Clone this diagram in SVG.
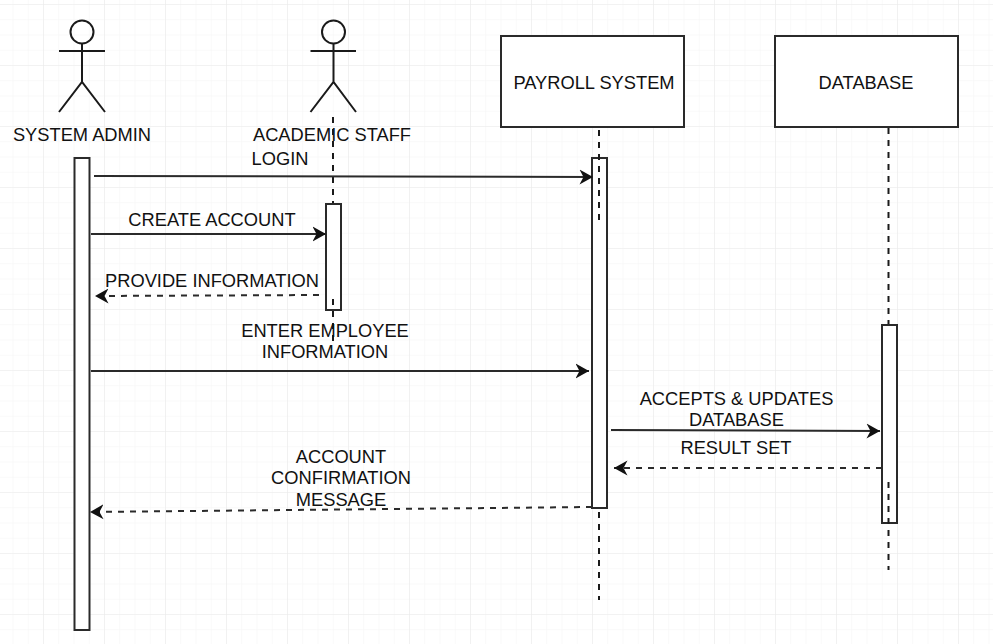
<svg xmlns="http://www.w3.org/2000/svg" width="993" height="644" viewBox="0 0 993 644">
<style>
.s{fill:none;stroke:#1a1a1a;stroke-width:2}
.b{fill:#fff;stroke:#2a2a2a;stroke-width:2}
.d{fill:none;stroke:#1a1a1a;stroke-width:2;stroke-dasharray:6 6}
.c{fill:none;stroke:#2a2a2a;stroke-width:2}
.dc{fill:none;stroke:#2a2a2a;stroke-width:2;stroke-dasharray:6 6}
text{font-family:"Liberation Sans",Arial,sans-serif;font-size:18.3px;fill:#111;text-anchor:middle}
</style>
<defs>
<pattern id="minor" width="15.25" height="15.25" patternUnits="userSpaceOnUse" x="12.5" y="4">
<path d="M0 0H15.25M0 0V15.25" fill="none" stroke="#f4f4f4" stroke-width="1"/>
</pattern>
<pattern id="major" width="61" height="61" patternUnits="userSpaceOnUse" x="43" y="4">
<path d="M0 0H61M0 0V61" fill="none" stroke="#ebebeb" stroke-width="1.2"/>
</pattern>
<marker id="arrow" viewBox="0 0 14 16" refX="13.500" refY="8" markerWidth="14" markerHeight="16" markerUnits="userSpaceOnUse" orient="auto">
<path d="M0 0.500L13.500 8L0 15.500L4 8Z" fill="#111"/>
</marker>
</defs>
<rect width="993" height="644" fill="#fff"/>
<rect width="993" height="644" fill="url(#minor)"/>
<rect width="993" height="644" fill="url(#major)"/>
<g id="actor-system-admin">
<circle class="s" cx="82" cy="32" r="11.500"/>
<path class="s" d="M59 51H105M82 44V82M59 112L82 82L105 112"/>
<text x="82" y="141">SYSTEM ADMIN</text>
<rect class="b" x="74.500" y="158" width="15" height="472"/>
</g>
<g id="actor-academic-staff">
<circle class="s" cx="333.500" cy="32" r="11.500"/>
<path class="s" d="M310.500 51H356M333.500 44V82M310.500 112L333.500 82L356 112"/>
<text x="332" y="141">ACADEMIC STAFF</text>
<path class="d" d="M333 117V204"/>
<rect class="b" x="326" y="204" width="15" height="106"/>
<path class="d" d="M333 299V344"/>
</g>
<g id="node-payroll">
<rect class="b" x="501" y="36" width="183" height="91"/>
<text x="594" y="89">PAYROLL SYSTEM</text>
<rect class="b" x="592" y="158" width="15" height="350"/>
<path class="d" d="M599 130V220M599 512V600"/>
</g>
<g id="node-database">
<rect class="b" x="775" y="36" width="183" height="91"/>
<text x="866" y="89">DATABASE</text>
<path class="d" d="M888.500 128V325"/>
<rect class="b" x="882" y="325" width="15" height="198"/>
<path class="d" d="M888.500 482V570"/>
</g>
<g id="connectors">
<path class="c" marker-end="url(#arrow)" d="M94 176L593 177"/>
<path class="c" marker-end="url(#arrow)" d="M91 234H326"/>
<path class="dc" marker-end="url(#arrow)" d="M319 295L95 296"/>
<path class="c" marker-end="url(#arrow)" d="M91 371H589"/>
<path class="c" marker-end="url(#arrow)" d="M611 430L880 431"/>
<path class="dc" marker-end="url(#arrow)" d="M882 468H614"/>
<path class="dc" marker-end="url(#arrow)" d="M592 507L90 512"/>
</g>
<g id="labels">
<text x="280" y="165">LOGIN</text>
<text x="212" y="226">CREATE ACCOUNT</text>
<text x="212" y="287">PROVIDE INFORMATION</text>
<text x="325" y="337">ENTER EMPLOYEE</text>
<text x="325" y="358">INFORMATION</text>
<text x="736.500" y="405">ACCEPTS &amp; UPDATES</text>
<text x="736.500" y="426">DATABASE</text>
<text x="736" y="454">RESULT SET</text>
<text x="341" y="463">ACCOUNT</text>
<text x="341" y="484">CONFIRMATION</text>
<text x="341" y="506">MESSAGE</text>
</g>
</svg>
